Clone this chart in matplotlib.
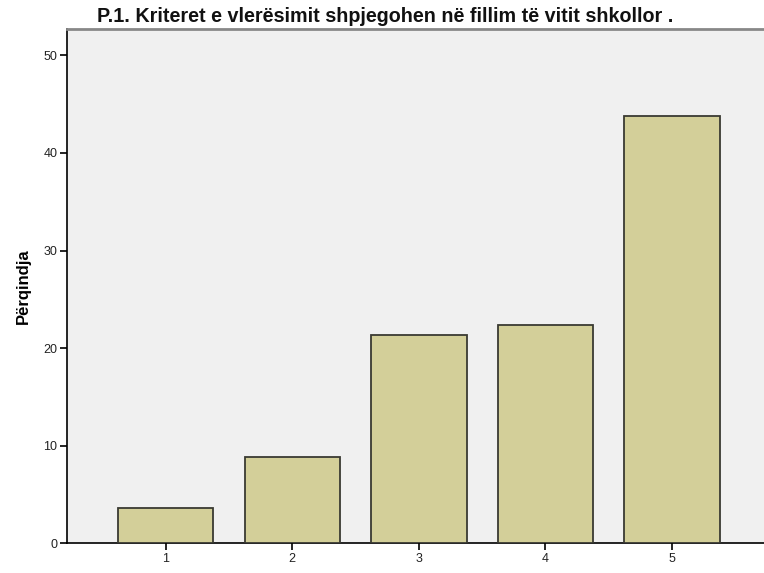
import matplotlib
matplotlib.use("Agg")
import matplotlib.pyplot as plt

plt.rcParams["font.family"] = ["Liberation Sans", "DejaVu Sans"]

categories = ["1", "2", "3", "4", "5"]
percent = [3.6, 8.9, 21.4, 22.4, 43.8]

title = "P.1. Kriteret e vlerësimit shpjegohen në fillim të vitit shkollor ."
ylabel = "Përqindja"

fig = plt.figure(figsize=(7.64, 5.73), dpi=100)
ax = fig.add_axes([0.0877, 0.0515, 0.9123, 0.8975])
ax.set_facecolor("#f0f0f0")

xpos = list(range(1, len(categories) + 1))
ax.bar(xpos, percent, width=0.755, color="#d3cf99", edgecolor="#3a3a32", linewidth=1.3, zorder=3)

ax.set_xlim(0.2204, 5.726)
ax.set_ylim(0, 52.66)
ax.set_xticks(xpos)
ax.set_xticklabels(categories)
ax.set_yticks([0, 10, 20, 30, 40, 50])

ax.spines["right"].set_visible(False)
ax.spines["top"].set_color("#888888")
ax.spines["top"].set_linewidth(2)
ax.spines["left"].set_color("#000000")
ax.spines["bottom"].set_color("#000000")
ax.spines["left"].set_linewidth(1.2)
ax.spines["bottom"].set_linewidth(1.2)

ax.tick_params(axis="both", length=5, width=1.2, color="#000000", labelsize=9, labelcolor="#222222", pad=2)

ax.set_ylabel(ylabel, fontsize=12, fontweight="bold", labelpad=9)
fig.text(0.5046, 0.971, title, ha="center", va="center", fontsize=14.2,
         fontweight="bold", color="#111111")

fig.savefig("out.png", dpi=100)
